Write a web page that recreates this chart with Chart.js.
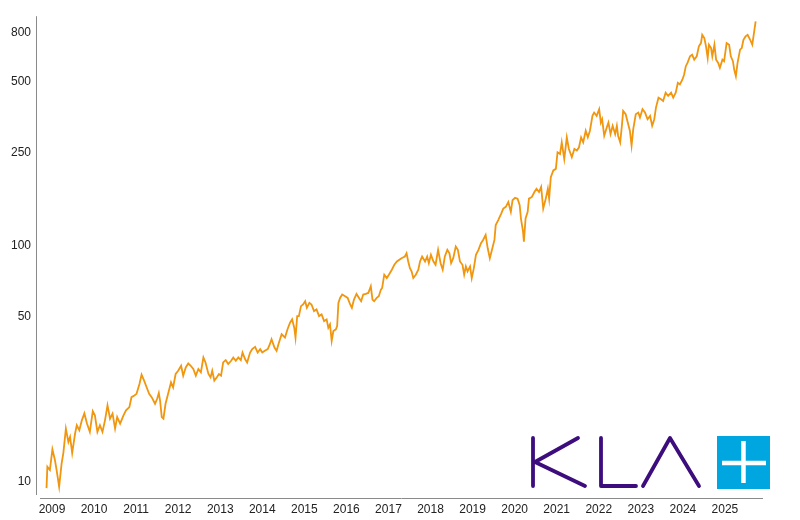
<!DOCTYPE html>
<html>
<head>
<meta charset="utf-8">
<title>KLA</title>
<script src="https://cdn.jsdelivr.net/npm/chart.js@4.4.1/dist/chart.umd.min.js"></script>
<style>
  html, body { margin: 0; padding: 0; background: #fff; }
  #wrap { position: relative; width: 800px; height: 520px; }
  #logo { position: absolute; left: 0; top: 0; pointer-events: none; }
</style>
</head>
<body>
<div id="wrap">
  <canvas id="price-chart" width="800" height="520"></canvas>
  <svg id="logo" width="800" height="520" role="img" aria-label="KLA">
    <title>KLA</title>
    <g fill="none" stroke="#3d0d7e" stroke-width="3.8" stroke-linecap="round" stroke-linejoin="round">
      <path d="M533 438 L533 486"/>
      <path d="M578 438 L535 462 L585 486"/>
      <path d="M601 438 L601 486 L636 486"/>
      <path d="M643 486 L670 438 L699 486"/>
    </g>
    <rect x="717" y="436" width="53" height="53" fill="#00a6df"/>
    <g stroke="#fff" stroke-width="4.5">
      <path d="M743.5 441 L743.5 483"/>
      <path d="M722 463 L766 463"/>
    </g>
  </svg>
</div>
<script>
// closing prices (decimal year, price)
const dates = [
  2008.87, 2008.89, 2008.95, 2009.01, 2009.07, 2009.11, 2009.17, 2009.23, 2009.27, 2009.33, 2009.39, 2009.43, 2009.48, 2009.55, 2009.59, 2009.65, 2009.71, 2009.77, 2009.83, 2009.90, 2009.97,
  2010.02, 2010.08, 2010.14, 2010.20, 2010.26, 2010.32, 2010.38, 2010.44, 2010.50, 2010.55, 2010.62, 2010.70, 2010.76, 2010.84, 2010.89, 2010.96,
  2011.01, 2011.08, 2011.13, 2011.19, 2011.25, 2011.31, 2011.37, 2011.45, 2011.50, 2011.54, 2011.57, 2011.61, 2011.65, 2011.70, 2011.77, 2011.83, 2011.88, 2011.94,
  2012.00, 2012.07, 2012.12, 2012.18, 2012.24, 2012.30, 2012.36, 2012.42, 2012.48, 2012.54, 2012.60, 2012.65, 2012.72, 2012.77, 2012.81, 2012.86, 2012.92, 2012.97,
  2013.02, 2013.07, 2013.13, 2013.19, 2013.26, 2013.31, 2013.37, 2013.43, 2013.49, 2013.53, 2013.59, 2013.64, 2013.71, 2013.76, 2013.83, 2013.89, 2013.95,
  2014.00, 2014.06, 2014.13, 2014.18, 2014.22, 2014.29, 2014.34, 2014.39, 2014.46, 2014.54, 2014.60, 2014.66, 2014.71, 2014.76, 2014.79, 2014.83, 2014.87, 2014.92, 2014.97,
  2015.02, 2015.06, 2015.12, 2015.17, 2015.23, 2015.29, 2015.35, 2015.41, 2015.47, 2015.53, 2015.57, 2015.61, 2015.65, 2015.69, 2015.75, 2015.78, 2015.81, 2015.85, 2015.90, 2015.97,
  2016.03, 2016.09, 2016.13, 2016.18, 2016.24, 2016.30, 2016.35, 2016.40, 2016.46, 2016.52, 2016.58, 2016.62, 2016.66, 2016.72, 2016.77, 2016.82, 2016.85, 2016.90, 2016.96,
  2017.01, 2017.08, 2017.14, 2017.20, 2017.31, 2017.39, 2017.43, 2017.47, 2017.51, 2017.55, 2017.59, 2017.65, 2017.71, 2017.75, 2017.80, 2017.87, 2017.92, 2017.96,
  2018.01, 2018.07, 2018.12, 2018.18, 2018.24, 2018.29, 2018.34, 2018.40, 2018.45, 2018.49, 2018.54, 2018.60, 2018.65, 2018.70, 2018.76, 2018.80, 2018.84, 2018.88, 2018.94, 2018.98,
  2019.03, 2019.08, 2019.14, 2019.20, 2019.25, 2019.31, 2019.36, 2019.41, 2019.47, 2019.52, 2019.55, 2019.61, 2019.68, 2019.73, 2019.79, 2019.85, 2019.91, 2019.95,
  2020.01, 2020.07, 2020.12, 2020.15, 2020.20, 2020.22, 2020.26, 2020.31, 2020.34, 2020.41, 2020.47, 2020.52, 2020.58, 2020.63, 2020.68, 2020.74, 2020.79, 2020.82, 2020.86, 2020.92, 2020.98,
  2021.02, 2021.08, 2021.12, 2021.18, 2021.24, 2021.29, 2021.36, 2021.42, 2021.48, 2021.53, 2021.58, 2021.63, 2021.69, 2021.74, 2021.79, 2021.85, 2021.89, 2021.95,
  2022.01, 2022.05, 2022.08, 2022.13, 2022.19, 2022.23, 2022.28, 2022.33, 2022.39, 2022.43, 2022.46, 2022.51, 2022.55, 2022.58, 2022.64, 2022.70, 2022.74, 2022.78, 2022.82, 2022.88, 2022.94, 2022.98,
  2023.04, 2023.10, 2023.16, 2023.22, 2023.27, 2023.32, 2023.36, 2023.42, 2023.48, 2023.53, 2023.59, 2023.65, 2023.72, 2023.77, 2023.83, 2023.88, 2023.93, 2023.99,
  2024.03, 2024.07, 2024.11, 2024.17, 2024.22, 2024.27, 2024.33, 2024.38, 2024.43, 2024.46, 2024.51, 2024.55, 2024.59, 2024.62, 2024.67, 2024.70, 2024.75, 2024.79, 2024.84, 2024.88, 2024.94, 2024.98,
  2025.04, 2025.10, 2025.14, 2025.19, 2025.22, 2025.26, 2025.30, 2025.36, 2025.40, 2025.44, 2025.49, 2025.54, 2025.60, 2025.65, 2025.69, 2025.73
];
const prices = [
  9.41, 11.60, 11.23, 13.73, 12.38, 11.23, 9.55, 12.02, 13.25, 16.83, 14.78, 15.51, 13.25, 16.08, 17.38, 16.55, 18.24, 19.52, 17.72, 16.29, 19.96,
  19.15, 16.29, 17.38, 16.29, 18.24, 21.10, 18.54, 19.47, 16.83, 18.83, 17.67, 19.15, 20.10, 20.76, 22.87, 23.25,
  23.63, 26.04, 28.50, 26.89, 25.19, 23.63, 22.87, 21.45, 22.51, 23.81, 22.14, 18.83, 18.54, 21.45, 24.00, 26.45, 25.19, 28.69,
  29.62, 31.09, 28.22, 30.59, 31.79, 31.09, 30.11, 28.22, 30.11, 29.14, 33.70, 32.10, 28.69, 27.76, 29.62, 26.89, 27.76, 28.69,
  28.22, 32.10, 32.86, 31.61, 32.64, 33.70, 32.64, 33.70, 32.86, 35.38, 33.18, 32.10, 35.38, 36.56, 37.38, 35.38, 36.56,
  35.38, 35.96, 36.56, 38.37, 40.28, 37.13, 35.96, 38.67, 42.28, 40.92, 44.38, 47.31, 48.89, 45.08, 40.92, 50.48, 50.48, 55.64, 56.56,
  58.40, 54.73, 57.43, 56.56, 53.01, 53.89, 50.48, 51.32, 48.09, 48.89, 45.08, 46.58, 39.62, 43.65, 44.38, 45.82, 57.43, 60.30, 62.32, 61.30,
  60.30, 56.56, 54.73, 59.36, 62.68, 60.30, 58.40, 62.32, 62.68, 63.29, 67.53, 59.36, 58.40, 60.30, 61.30, 65.41, 66.43, 75.64, 73.19,
  75.64, 79.40, 83.34, 86.05, 88.85, 90.32, 93.26, 86.05, 80.64, 78.11, 73.19, 75.64, 79.40, 86.05, 90.32, 86.05, 90.32, 84.64,
  91.83, 86.05, 83.34, 96.38, 84.64, 79.40, 90.32, 96.38, 93.26, 84.64, 88.85, 99.51, 96.38, 86.05, 83.34, 75.64, 81.97, 78.11, 81.97, 73.19,
  80.64, 91.83, 96.38, 102.8, 106.2, 111.5, 97.89, 88.85, 97.89, 106.2, 122.8, 128.9, 137.4, 144.3, 146.7, 153.9, 139.7, 156.5,
  160.3, 159.0, 149.1, 130.9, 115.1, 104.4, 130.9, 139.7, 159.0, 161.6, 169.6, 175.1, 169.6, 178.1, 144.3, 159.0, 175.1, 159.0, 196.2, 209.4, 212.6,
  250.0, 245.9, 275.4, 234.3, 289.1, 258.1, 238.2, 258.1, 254.2, 262.4, 289.1, 275.4, 308.5, 289.1, 308.5, 356.8, 368.4, 356.8,
  380.4, 334.3, 345.2, 293.9, 318.5, 334.3, 298.5, 323.8, 298.5, 323.8, 293.9, 275.4, 323.8, 374.5, 362.4, 328.9, 308.5, 266.8, 313.3, 362.4, 368.4, 351.0,
  380.4, 368.4, 345.2, 356.8, 323.8, 345.2, 386.7, 426.1, 419.2, 412.7, 447.3, 433.3, 447.3, 426.1, 447.3, 492.7, 484.7, 508.8,
  534.0, 579.4, 598.2, 638.4, 648.4, 617.7, 638.4, 703.4, 726.2, 787.0, 762.3, 703.4, 628.2, 714.3, 691.8, 638.4, 714.3, 617.7, 598.2, 570.0, 617.7, 608.1,
  726.2, 714.3, 638.4, 608.1, 560.7, 525.8, 598.2, 680.7, 691.8, 749.9, 775.0, 787.0, 749.9, 714.3, 800.1, 896.5
];
const yearTicks = [2009, 2010, 2011, 2012, 2013, 2014, 2015, 2016, 2017, 2018, 2019, 2020, 2021, 2022, 2023, 2024, 2025];
const priceTicks = [10, 50, 100, 250, 500, 800];

const lineColor = '#f0960f';
const textColor = '#222';
const axisColor = '#8a8a8a';

// axis lines drawn slightly apart from each other, as in the original
const axisLines = {
  id: 'axisLines',
  beforeDatasetsDraw(chart) {
    const { ctx, chartArea: a } = chart;
    ctx.save();
    ctx.strokeStyle = axisColor;
    ctx.lineWidth = 1;
    ctx.beginPath();
    ctx.moveTo(a.left - 3.5, a.top);
    ctx.lineTo(a.left - 3.5, a.bottom);
    ctx.moveTo(a.left, a.bottom + 3.5);
    ctx.lineTo(a.right, a.bottom + 3.5);
    ctx.stroke();
    ctx.restore();
  }
};

const ctx = document.getElementById('price-chart').getContext('2d');
new Chart(ctx, {
  type: 'line',
  data: {
    datasets: [{
      label: 'KLA',
      data: dates.map((d, i) => ({ x: d, y: prices[i] })),
      borderColor: lineColor,
      borderWidth: 1.8,
      pointRadius: 0,
      tension: 0,
      fill: false
    }]
  },
  options: {
    responsive: false,
    animation: false,
    layout: { padding: { top: 13, right: 37, left: 0, bottom: 0 } },
    plugins: {
      legend: { display: false },
      tooltip: { enabled: false }
    },
    scales: {
      x: {
        type: 'linear',
        min: 2008.715,
        max: 2025.905,
        grid: { display: false, drawTicks: false },
        border: { display: false },
        afterFit: s => { s.height = 25; },
        afterBuildTicks: s => { s.ticks = yearTicks.map(v => ({ value: v })); },
        ticks: {
          autoSkip: false,
          maxRotation: 0,
          padding: 7,
          color: textColor,
          font: { family: '"Liberation Sans", Arial, sans-serif', size: 12 },
          callback: v => String(v)
        }
      },
      y: {
        type: 'logarithmic',
        min: 8.8,
        max: 944,
        grid: { display: false, drawTicks: false },
        border: { display: false },
        afterFit: s => { s.width = 40; },
        afterBuildTicks: s => { s.ticks = priceTicks.map(v => ({ value: v })); },
        ticks: {
          autoSkip: false,
          padding: 9,
          color: textColor,
          font: { family: '"Liberation Sans", Arial, sans-serif', size: 12 },
          callback: v => String(v)
        }
      }
    }
  },
  plugins: [axisLines]
});
</script>
</body>
</html>
